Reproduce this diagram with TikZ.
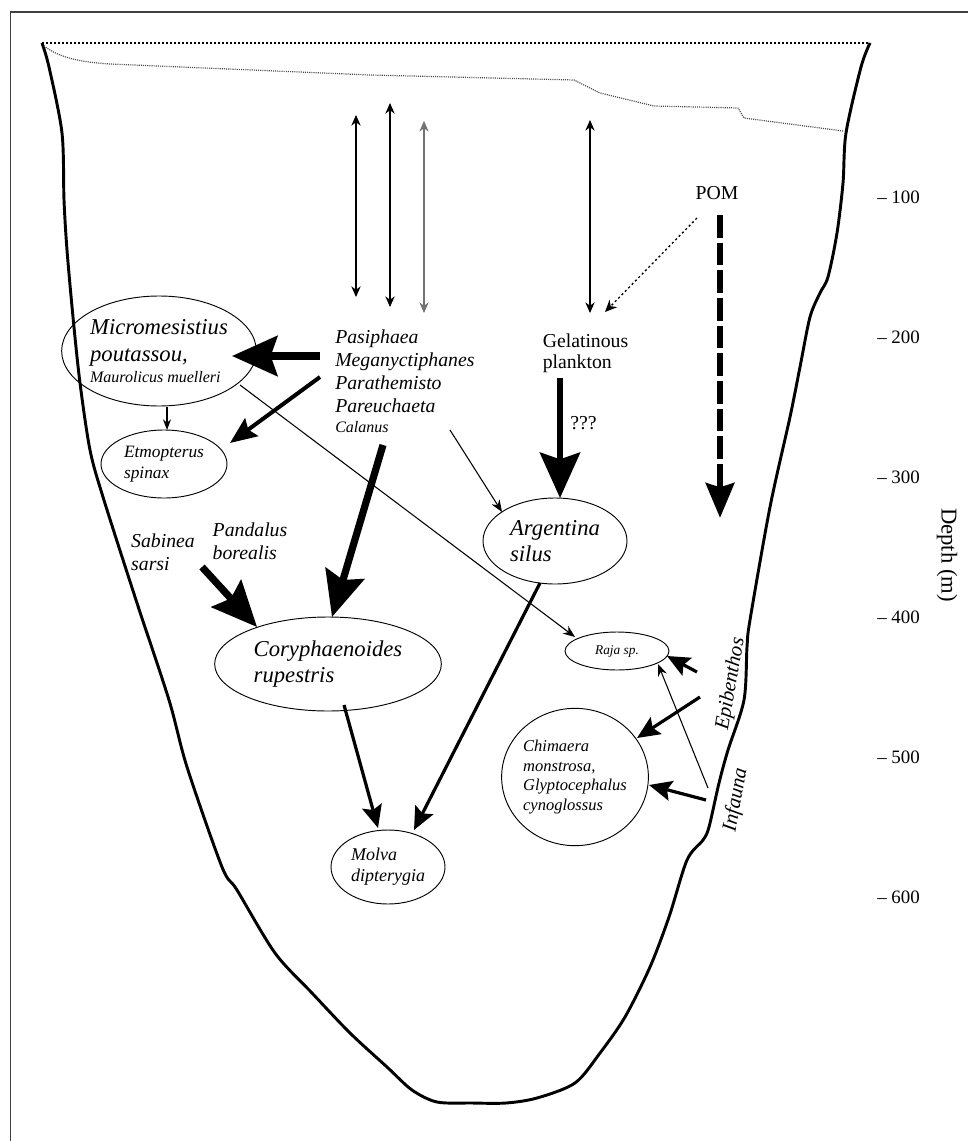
\documentclass[tikz,border=0pt]{standalone}
\usepackage{fontspec}
\setmainfont{Liberation Serif}
\usetikzlibrary{arrows.meta,shapes.geometric,calc}
\begin{document}
\begin{tikzpicture}[x=0.75pt,y=-0.75pt,
  eshape/.style={ellipse,draw,line width=0.7pt,inner sep=0pt,align=left},
  lbl/.style={inner sep=0pt,font=\fontsize{14.8}{17.5}\selectfont},
  ilbl/.style={inner sep=0pt,font=\fontsize{14.8}{17.25}\selectfont\itshape,align=left},
  tick/.style={inner sep=0pt,anchor=west,font=\fontsize{14.2}{16}\selectfont},
  thinarr/.style={line width=0.8pt,-{Stealth[length=9pt,width=7pt]}},
  medarr/.style={line width=2.4pt,-{Stealth[length=17pt,width=15pt,inset=3pt]}},
  bigarr/.style={line width=5.4pt,-{Stealth[length=34pt,width=30pt,inset=5pt]}},
  vertarr/.style={line width=0.8pt,{Stealth[length=8pt,width=7pt]}-{Stealth[length=8pt,width=7pt]}},
  basin/.style={line width=2.2pt,line join=round},
]
\useasboundingbox (0,0) rectangle (968,1141);
% frame
\draw[line width=1.1pt,black!75] (10.5,1141) -- (10.5,12) -- (968,12);
% basin
\draw[basin] plot[smooth,tension=0.5] coordinates {
 (42,43) (49,67) (62,133) (64,200) (67,250) (73,317) (80,383) (90,450) (103,497)
 (136,600) (169,700) (187,767) (222,867) (237,890) (275,953) (312,993) (350,1033)
 (387,1067) (412,1090) (437,1102) (472,1103) (506,1103) (537,1098) (575,1083)
 (600,1053) (625,1017) (650,967) (669,917) (687,860) (703,840) (709,827) (719,783)
 (728,750) (744,700) (747,647) (750,620) (770,507) (790,417) (800,367) (810,317)
 (820,293) (828,277) (837,233) (843,183) (846,133) (861,67) (870,43)};
\draw[line width=1.4pt,dash pattern=on 1.3pt off 1.7pt] (42,43) -- (870,43);
\draw[line width=0.9pt,black!70,dash pattern=on 0.8pt off 0.8pt]
 (44,46) .. controls (60,58) and (80,62) .. (110,64) -- (370,75) -- (574,80)
 -- (600,93) -- (654,106) -- (738,108) -- (744,118) -- (843,131);

% ellipse nodes
\node[eshape,minimum width=145.5pt,minimum height=82.5pt,font=\fontsize{17}{20}\selectfont\itshape] (micro) at (159,351)
 {Micromesistius\\poutassou,\\[-4pt]{\fontsize{12}{14}\selectfont Maurolicus muelleri}};
\node[eshape,minimum width=94.5pt,minimum height=51pt,font=\fontsize{13}{15.75}\selectfont\itshape] (etmo) at (164,464)
 {Etmopterus\\spinax};
\node[eshape,minimum width=170pt,minimum height=70.5pt,font=\fontsize{17}{19}\selectfont\itshape] (cory) at (328,664)
 {Coryphaenoides\\rupestris};
\node[eshape,minimum width=108pt,minimum height=64.5pt,font=\fontsize{17}{19.5}\selectfont\itshape] (argen) at (555,541)
 {Argentina\\silus};
\node[eshape,minimum width=85.5pt,minimum height=55.5pt,font=\fontsize{13.5}{15.75}\selectfont\itshape] (molva) at (388,867)
 {Molva\\dipterygia};
\node[eshape,minimum width=108pt,minimum height=103pt,font=\fontsize{12.4}{14.6}\selectfont\itshape] (chim) at (575,777)
 {Chimaera\\monstrosa,\\Glyptocephalus\\cynoglossus};
\node[eshape,minimum width=78pt,minimum height=28.5pt,font=\fontsize{10}{12}\selectfont\itshape] (raja) at (617,651)
 {Raja sp.};

% text nodes
\node[ilbl,anchor=north west] (prey) at (335,329.5)
 {Pasiphaea\\Meganyctiphanes\\Parathemisto\\Pareuchaeta\\[-2.5pt]{\fontsize{12}{14}\selectfont Calanus}};
\node[lbl,align=left,font=\fontsize{14.8}{15.75}\selectfont] (gel) at (585.5,353) {Gelatinous\\plankton};
\node[lbl] (pom) at (717,193) {POM};
\node[lbl,anchor=west] (qq) at (570,423) {???};
\node[ilbl] (sab) at (163,552) {Sabinea\\sarsi};
\node[ilbl] (pand) at (250,541) {Pandalus\\borealis};
\node[inner sep=0pt,rotate=80,font=\fontsize{15.5}{18}\selectfont\itshape] (epi) at (731,684) {Epibenthos};
\node[inner sep=0pt,rotate=80,font=\fontsize{15.5}{18}\selectfont\itshape] (inf) at (736,800) {Infauna};
% depth scale
\node[tick] (d1) at (877,197) {– 100};
\node[tick] (d2) at (877,337) {– 200};
\node[tick] (d3) at (877,477) {– 300};
\node[tick] (d4) at (877,617) {– 400};
\node[tick] (d5) at (877,757) {– 500};
\node[tick] (d6) at (877,897) {– 600};
\node[inner sep=0pt,rotate=-90,font=\fontsize{17}{19}\selectfont] (depth) at (947,555) {Depth (m)};

% free ends
\coordinate (va1) at (356,115); \coordinate (vb1) at (356,297);
\coordinate (va2) at (390,103); \coordinate (vb2) at (390,307);
\coordinate (va3) at (424,121); \coordinate (vb3) at (424,313);
\coordinate (va4) at (590,120); \coordinate (vb4) at (590,313);
\coordinate (sPas) at (320,356);
\coordinate (sMeg) at (320,377);
\coordinate (sCal) at (383,445);
\coordinate (sPar) at (450,430);
\coordinate (sGel) at (560,378);
\coordinate (sSab) at (202,567);
\coordinate (sPomA) at (697,218);
\coordinate (sPomB) at (720,215);
\coordinate (tPom) at (720,518);
\coordinate (sEpiA) at (697,672);
\coordinate (sEpiB) at (700,697);
\coordinate (sInfA) at (706,800);
\coordinate (sInfB) at (708,788);

% vertical migration arrows
\draw[vertarr] (va1) -- (vb1);
\draw[vertarr] (va2) -- (vb2);
\draw[vertarr,black!55] (va3) -- (vb3);
\draw[vertarr] (va4) -- (vb4);

% feeding links
\draw[bigarr] (sPas) -- ($(micro.center)+(73,5)$);
\draw[medarr,line width=3pt,-{Stealth[length=20pt,width=16.5pt,inset=3pt]}] (sMeg) -- ($(etmo.center)+(66,-21)$);
\draw[thinarr,-{Stealth[length=8pt,width=6pt]}] ($(micro.center)+(8,56)$) -- ($(etmo.center)+(3,-34)$);
\draw[bigarr] (sCal) -- ($(cory.center)+(4,-47)$);
\draw[thinarr] (sPar) -- ($(argen.center)+(-53,-29)$);
\draw[thinarr] ($(micro.center)+(81,34)$) -- ($(raja.center)+(-42,-14)$);
\draw[bigarr] (sSab) -- ($(cory.center)+(-71,-37)$);
\draw[bigarr,line width=4.8pt] (sGel) -- ($(argen.center)+(5,-43)$);
\draw[line width=1pt,dash pattern=on 1.6pt off 2pt,-{Stealth[length=9pt,width=8pt]}] (sPomA) -- ($(gel.center)+(19.5,-41)$);
\draw[line width=5.2pt,dash pattern=on 17pt off 3.75pt,-{Stealth[length=26pt,width=21pt,inset=3pt]}] (sPomB) -- (tPom);
\draw[medarr] ($(cory.center)+(16,41)$) -- ($(molva.center)+(-10,-39)$);
\draw[medarr] ($(argen.center)+(-15,42)$) -- ($(molva.center)+(26,-37)$);
\draw[medarr] (sEpiA) -- ($(raja.center)+(50,5)$);
\draw[medarr] (sEpiB) -- ($(chim.center)+(62,-39)$);
\draw[medarr] (sInfA) -- ($(chim.center)+(74,8)$);
\draw[thinarr] (sInfB) -- ($(raja.center)+(41,13)$);
\end{tikzpicture}
\end{document}
